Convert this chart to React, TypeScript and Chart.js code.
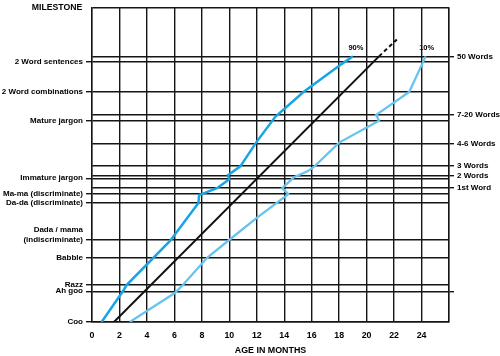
import React, { useEffect, useRef } from "react";
import { Chart, registerables } from "chart.js";

Chart.register(...registerables);

// ---- data ----
const monthTicks = [0, 2, 4, 6, 8, 10, 12, 14, 16, 18, 20, 22, 24, 26];
const leftMilestones = [
  "2 Word sentences",
  "2 Word combinations",
  "Mature jargon",
  "Immature jargon",
  "Ma-ma (discriminate)",
  "Da-da (discriminate)",
  "(indiscriminate)",
  "Babble",
  "Razz",
  "Ah goo",
  "Coo",
];
const leftLevels = [263, 232, 203, 145, 129, 120, 83, 65, 38, 31, 0];
const extraLeftLabels = ["Dada / mama"];
const extraLeftLevels = [93];
const rightMilestones = ["50 Words", "7-20 Words", "4-6 Words", "3 Words", "2 Words", "1st Word", ""];
const rightLevels = [268, 209, 180, 158, 148, 135, 31];
const topLevel = 317;

const p90Months = [0.7, 2.3, 2.5, 5.7, 7.75, 7.8, 9.1, 10.0, 9.9, 10.8, 12.0, 13.35, 15.4, 18.05, 19.0];
const p90Levels = [0, 32, 37, 82, 120, 128, 135, 144, 148, 157, 182, 207, 232, 259, 268];

const p50Months = [1.6, 20.9, 22.2];
const p50Levels = [0, 268, 285];

const p10Months = [2.75, 6.0, 6.6, 8.4, 10.1, 12.0, 14.3, 13.85, 14.7, 15.7, 16.2, 18.0, 20.9, 20.7, 23.1, 24.3];
const p10Levels = [0, 29, 37, 65, 84, 105, 129, 135, 146, 152, 157, 181, 203, 209, 232, 268];

const GRID = "#151515";
const FONT = "'Liberation Sans', Arial, Helvetica, sans-serif";

const toPts = (xs: number[], ys: number[]) => xs.map((x, i) => ({ x, y: ys[i] }));

export default function App() {
  const ref = useRef<HTMLCanvasElement | null>(null);

  useEffect(() => {
    document.body.style.margin = "0";
    const canvas = ref.current;
    if (!canvas) return;

    const leftTickValues = [topLevel, ...rightLevels.filter((v) => v !== 31), ...leftLevels, ...extraLeftLevels].sort(
      (a, b) => b - a
    );
    const leftLabelFor = (v: number) => {
      const i = leftLevels.indexOf(v);
      if (i >= 0) return leftMilestones[i];
      const j = extraLeftLevels.indexOf(v);
      if (j >= 0) return extraLeftLabels[j];
      return "";
    };

    const textPlugin = {
      id: "texts",
      afterDraw(chart: any) {
        const { ctx, chartArea, scales } = chart;
        ctx.save();
        ctx.fillStyle = "#000";
        ctx.textBaseline = "middle";
        ctx.textAlign = "center";
        ctx.font = `bold 8.7px ${FONT}`;
        ctx.fillText("MILESTONE", 57, 8);
        ctx.font = `bold 8.9px ${FONT}`;
        ctx.fillText("AGE IN MONTHS", (chartArea.left + chartArea.right) / 2, 351);
        ctx.font = `bold 7.5px ${FONT}`;
        const x = scales.x, y = scales.y;
        const e90 = p90Months.length - 1;
        ctx.fillText("90%", x.getPixelForValue(p90Months[e90]) + 3, y.getPixelForValue(p90Levels[e90]) - 8);
        const e10 = p10Months.length - 1;
        ctx.fillText("10%", x.getPixelForValue(p10Months[e10]) + 1, y.getPixelForValue(p10Levels[e10]) - 8);
        ctx.restore();
      },
    };

    const chart = new Chart(canvas, {
      type: "line",
      data: {
        datasets: [
          {
            label: "90%",
            data: toPts(p90Months, p90Levels),
            borderColor: "#18a5e6",
            borderWidth: 2.5,
            pointRadius: 0,
            tension: 0,
            yAxisID: "y",
          },
          {
            label: "50%",
            data: toPts(p50Months, p50Levels),
            borderColor: "#111",
            borderWidth: 2,
            pointRadius: 0,
            tension: 0,
            yAxisID: "y",
            segment: {
              borderDash: (c: any) => (c.p0DataIndex >= 1 ? [4, 3] : undefined),
            },
          },
          {
            label: "10%",
            data: toPts(p10Months, p10Levels),
            borderColor: "#66c4ef",
            borderWidth: 2.3,
            pointRadius: 0,
            tension: 0,
            yAxisID: "y",
          },
        ],
      },
      options: {
        responsive: false,
        devicePixelRatio: 1,
        animation: false,
        layout: { padding: { top: 5, left: 0, right: 0, bottom: 0 } },
        plugins: { legend: { display: false }, tooltip: { enabled: false } },
        scales: {
          x: {
            type: "linear",
            min: 0,
            max: 26,
            afterBuildTicks: (s: any) => {
              s.ticks = monthTicks.map((v) => ({ value: v }));
            },
            afterFit: (s: any) => {
              s.height = 34;
            },
            ticks: {
              autoSkip: false,
              maxRotation: 0,
              padding: 8,
              color: "#000",
              font: { family: FONT, size: 8.8, weight: "bold" },
              callback: (v: any) => (v === 26 ? "" : String(v)),
            },
            grid: { color: GRID, lineWidth: 1.4, drawTicks: false },
            border: { color: GRID, width: 1.4 },
          },
          y: {
            type: "linear",
            position: "left",
            min: 0,
            max: topLevel,
            afterBuildTicks: (s: any) => {
              s.ticks = leftTickValues.map((v) => ({ value: v }));
            },
            afterFit: (s: any) => {
              s.width = 92;
            },
            ticks: {
              autoSkip: false,
              padding: 3,
              color: "#000",
              font: { family: FONT, size: 8, weight: "bold" },
              callback: (v: any) => leftLabelFor(v),
            },
            grid: {
              lineWidth: 1.4,
              tickLength: 6,
              color: (c: any) => (c.tick && extraLeftLevels.includes(c.tick.value) ? "rgba(0,0,0,0)" : GRID),
              tickColor: (c: any) => (c.tick && leftLevels.includes(c.tick.value) ? GRID : "rgba(0,0,0,0)"),
            },
            border: { color: GRID, width: 1.4 },
          },
          y2: {
            type: "linear",
            position: "right",
            min: 0,
            max: topLevel,
            afterBuildTicks: (s: any) => {
              s.ticks = rightLevels.map((v) => ({ value: v }));
            },
            afterFit: (s: any) => {
              s.width = 51;
            },
            ticks: {
              autoSkip: false,
              padding: 3,
              color: "#000",
              font: { family: FONT, size: 8, weight: "bold" },
              callback: (v: any) => {
                const i = rightLevels.indexOf(v);
                return i >= 0 ? rightMilestones[i] : "";
              },
            },
            grid: { drawOnChartArea: false, lineWidth: 1.4, tickLength: 5, color: GRID, tickColor: GRID },
            border: { color: GRID, width: 1.4 },
          },
        },
      },
      plugins: [textPlugin],
    } as any);

    return () => chart.destroy();
  }, []);

  return (
    <div style={{ width: 500, height: 356, background: "#fff" }}>
      <canvas ref={ref} width={500} height={356} style={{ display: "block" }} />
    </div>
  );
}
